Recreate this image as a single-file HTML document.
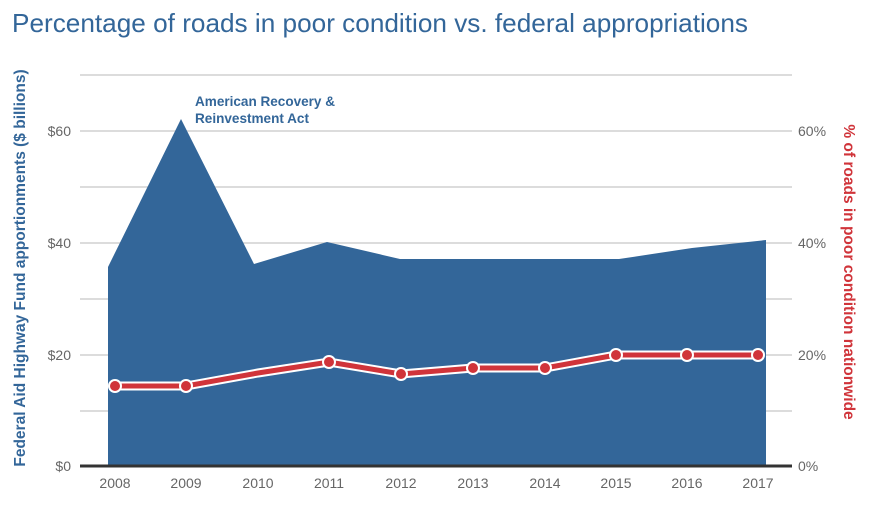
<!DOCTYPE html>
<html><head><meta charset="utf-8"><style>
body{margin:0;background:#fff;}
svg text{font-family:"Liberation Sans",sans-serif;}
</style></head><body>
<svg width="872" height="502" xmlns="http://www.w3.org/2000/svg">
<text x="12" y="32" font-size="26" fill="#336699" textLength="736" lengthAdjust="spacingAndGlyphs">Percentage of roads in poor condition vs. federal appropriations</text>
<g stroke="#d0d0d0" stroke-width="1.5">
<line x1="80" x2="792" y1="75" y2="75"/>
<line x1="80" x2="792" y1="131" y2="131"/>
<line x1="80" x2="792" y1="187" y2="187"/>
<line x1="80" x2="792" y1="243" y2="243"/>
<line x1="80" x2="792" y1="299" y2="299"/>
<line x1="80" x2="792" y1="355" y2="355"/>
<line x1="80" x2="792" y1="411" y2="411"/>
</g>
<polygon fill="#336699" points="108,466 108,267 181,119 254,264 327,242 400,259 473,259 546,259 619,259 692,248 766,240 766,466"/>
<line x1="80" x2="792" y1="466" y2="466" stroke="#333" stroke-width="3"/>
<polyline fill="none" stroke="#fff" stroke-width="9" points="115,386 186,386 258,373 329,362 401,374 473,368 545,368 616,355 687,355 758,355"/>
<polyline fill="none" stroke="#d0343a" stroke-width="5" points="115,386 186,386 258,373 329,362 401,374 473,368 545,368 616,355 687,355 758,355"/>
<g fill="#d0343a" stroke="#fff" stroke-width="2">
<circle cx="115" cy="386" r="6"/><circle cx="186" cy="386" r="6"/>
<circle cx="329" cy="362" r="6"/><circle cx="401" cy="374" r="6"/>
<circle cx="473" cy="368" r="6"/><circle cx="545" cy="368" r="6"/>
<circle cx="616" cy="355" r="6"/><circle cx="687" cy="355" r="6"/><circle cx="758" cy="355" r="6"/>
</g>
<g font-size="14" fill="#666" text-anchor="end">
<text x="71" y="136">$60</text><text x="71" y="248">$40</text><text x="71" y="360">$20</text><text x="71" y="471">$0</text>
</g>
<g font-size="14" fill="#666">
<text x="798" y="136">60%</text><text x="798" y="248">40%</text><text x="798" y="360">20%</text><text x="798" y="471">0%</text>
</g>
<g font-size="14" fill="#666" text-anchor="middle">
<text x="115" y="488">2008</text><text x="186" y="488">2009</text><text x="258" y="488">2010</text><text x="329" y="488">2011</text><text x="401" y="488">2012</text><text x="473" y="488">2013</text><text x="545" y="488">2014</text><text x="616" y="488">2015</text><text x="687" y="488">2016</text><text x="758" y="488">2017</text>
</g>
<text font-size="14" fill="#336699" font-weight="bold"><tspan x="195" y="106" textLength="140" lengthAdjust="spacingAndGlyphs">American Recovery &amp;</tspan><tspan x="195" y="123" textLength="114" lengthAdjust="spacingAndGlyphs">Reinvestment Act</tspan></text>
<text transform="translate(25,268) rotate(-90)" text-anchor="middle" font-size="15.5" font-weight="bold" fill="#336699">Federal Aid Highway Fund apportionments ($ billions)</text>
<text transform="translate(844,272) rotate(90)" text-anchor="middle" font-size="15.5" font-weight="bold" fill="#d0343a">% of roads in poor condition nationwide</text>
</svg>
</body></html>
